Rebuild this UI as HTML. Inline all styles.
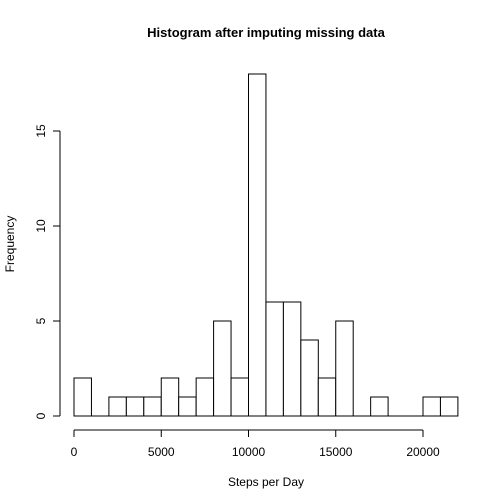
<!DOCTYPE html>
<html><head><meta charset="utf-8"><style>body{margin:0;background:#fff}svg{display:block}text{font-family:"Liberation Sans",Arial,sans-serif;font-size:12px;fill:#000}</style></head>
<body>
<svg id="chart" width="504" height="504" viewBox="0 0 504 504">
<text x="266" y="37" text-anchor="middle" font-weight="bold" style="font-size:13px">Histogram after imputing missing data</text>
<text x="266" y="486" text-anchor="middle">Steps per Day</text>
<text transform="translate(14,244) rotate(-90)" text-anchor="middle">Frequency</text>
<g id="bars"></g><g id="axes" stroke="#000" fill="none"></g><g id="labels"></g>
</svg>
<script>
const binStarts=[0,1000,2000,3000,4000,5000,6000,7000,8000,9000,10000,11000,12000,13000,14000,15000,16000,17000,18000,19000,20000,21000];
const counts=[2,0,1,1,1,2,1,2,5,2,18,6,6,4,2,5,0,1,0,0,1,1];
const binWidth=1000;
const xTicks=[0,5000,10000,15000,20000];
const yTicks=[0,5,10,15];
const NS="http://www.w3.org/2000/svg";
const x=v=>74+v*(349/20000);
const y=v=>416-v*19;
function mk(tag,attrs,parent){const e=document.createElementNS(NS,tag);for(const k in attrs)e.setAttribute(k,attrs[k]);parent.appendChild(e);return e;}
const bars=document.getElementById('bars'),axes=document.getElementById('axes'),labels=document.getElementById('labels');
binStarts.forEach((b,i)=>{
 const x0=x(b),x1=x(b+binWidth),y0=y(0),y1=y(counts[i]);
 const r=mk('path',{d:`M${x0},${y0}L${x0},${y1}L${x1},${y1}L${x1},${y0}Z`,fill:'#fff',stroke:'#000'},bars);
 
 
});
const xa=mk('line',{x1:x(xTicks[0]),x2:x(xTicks[xTicks.length-1]),y1:430,y2:430},axes);


xTicks.forEach(t=>{mk('line',{x1:x(t),x2:x(t),y1:430,y2:437},axes);
 const l=mk('text',{x:x(t),y:456,'text-anchor':'middle'},labels);l.textContent=t;
 
 });
const ya=mk('line',{x1:60,x2:60,y1:y(yTicks[0]),y2:y(yTicks[yTicks.length-1])},axes);


yTicks.forEach(t=>{mk('line',{x1:53,x2:60,y1:y(t),y2:y(t)},axes);
 const l=mk('text',{transform:`translate(45,${y(t)}) rotate(-90)`,'text-anchor':'middle'},labels);l.textContent=t;
 
 });
</script>
</body></html>
